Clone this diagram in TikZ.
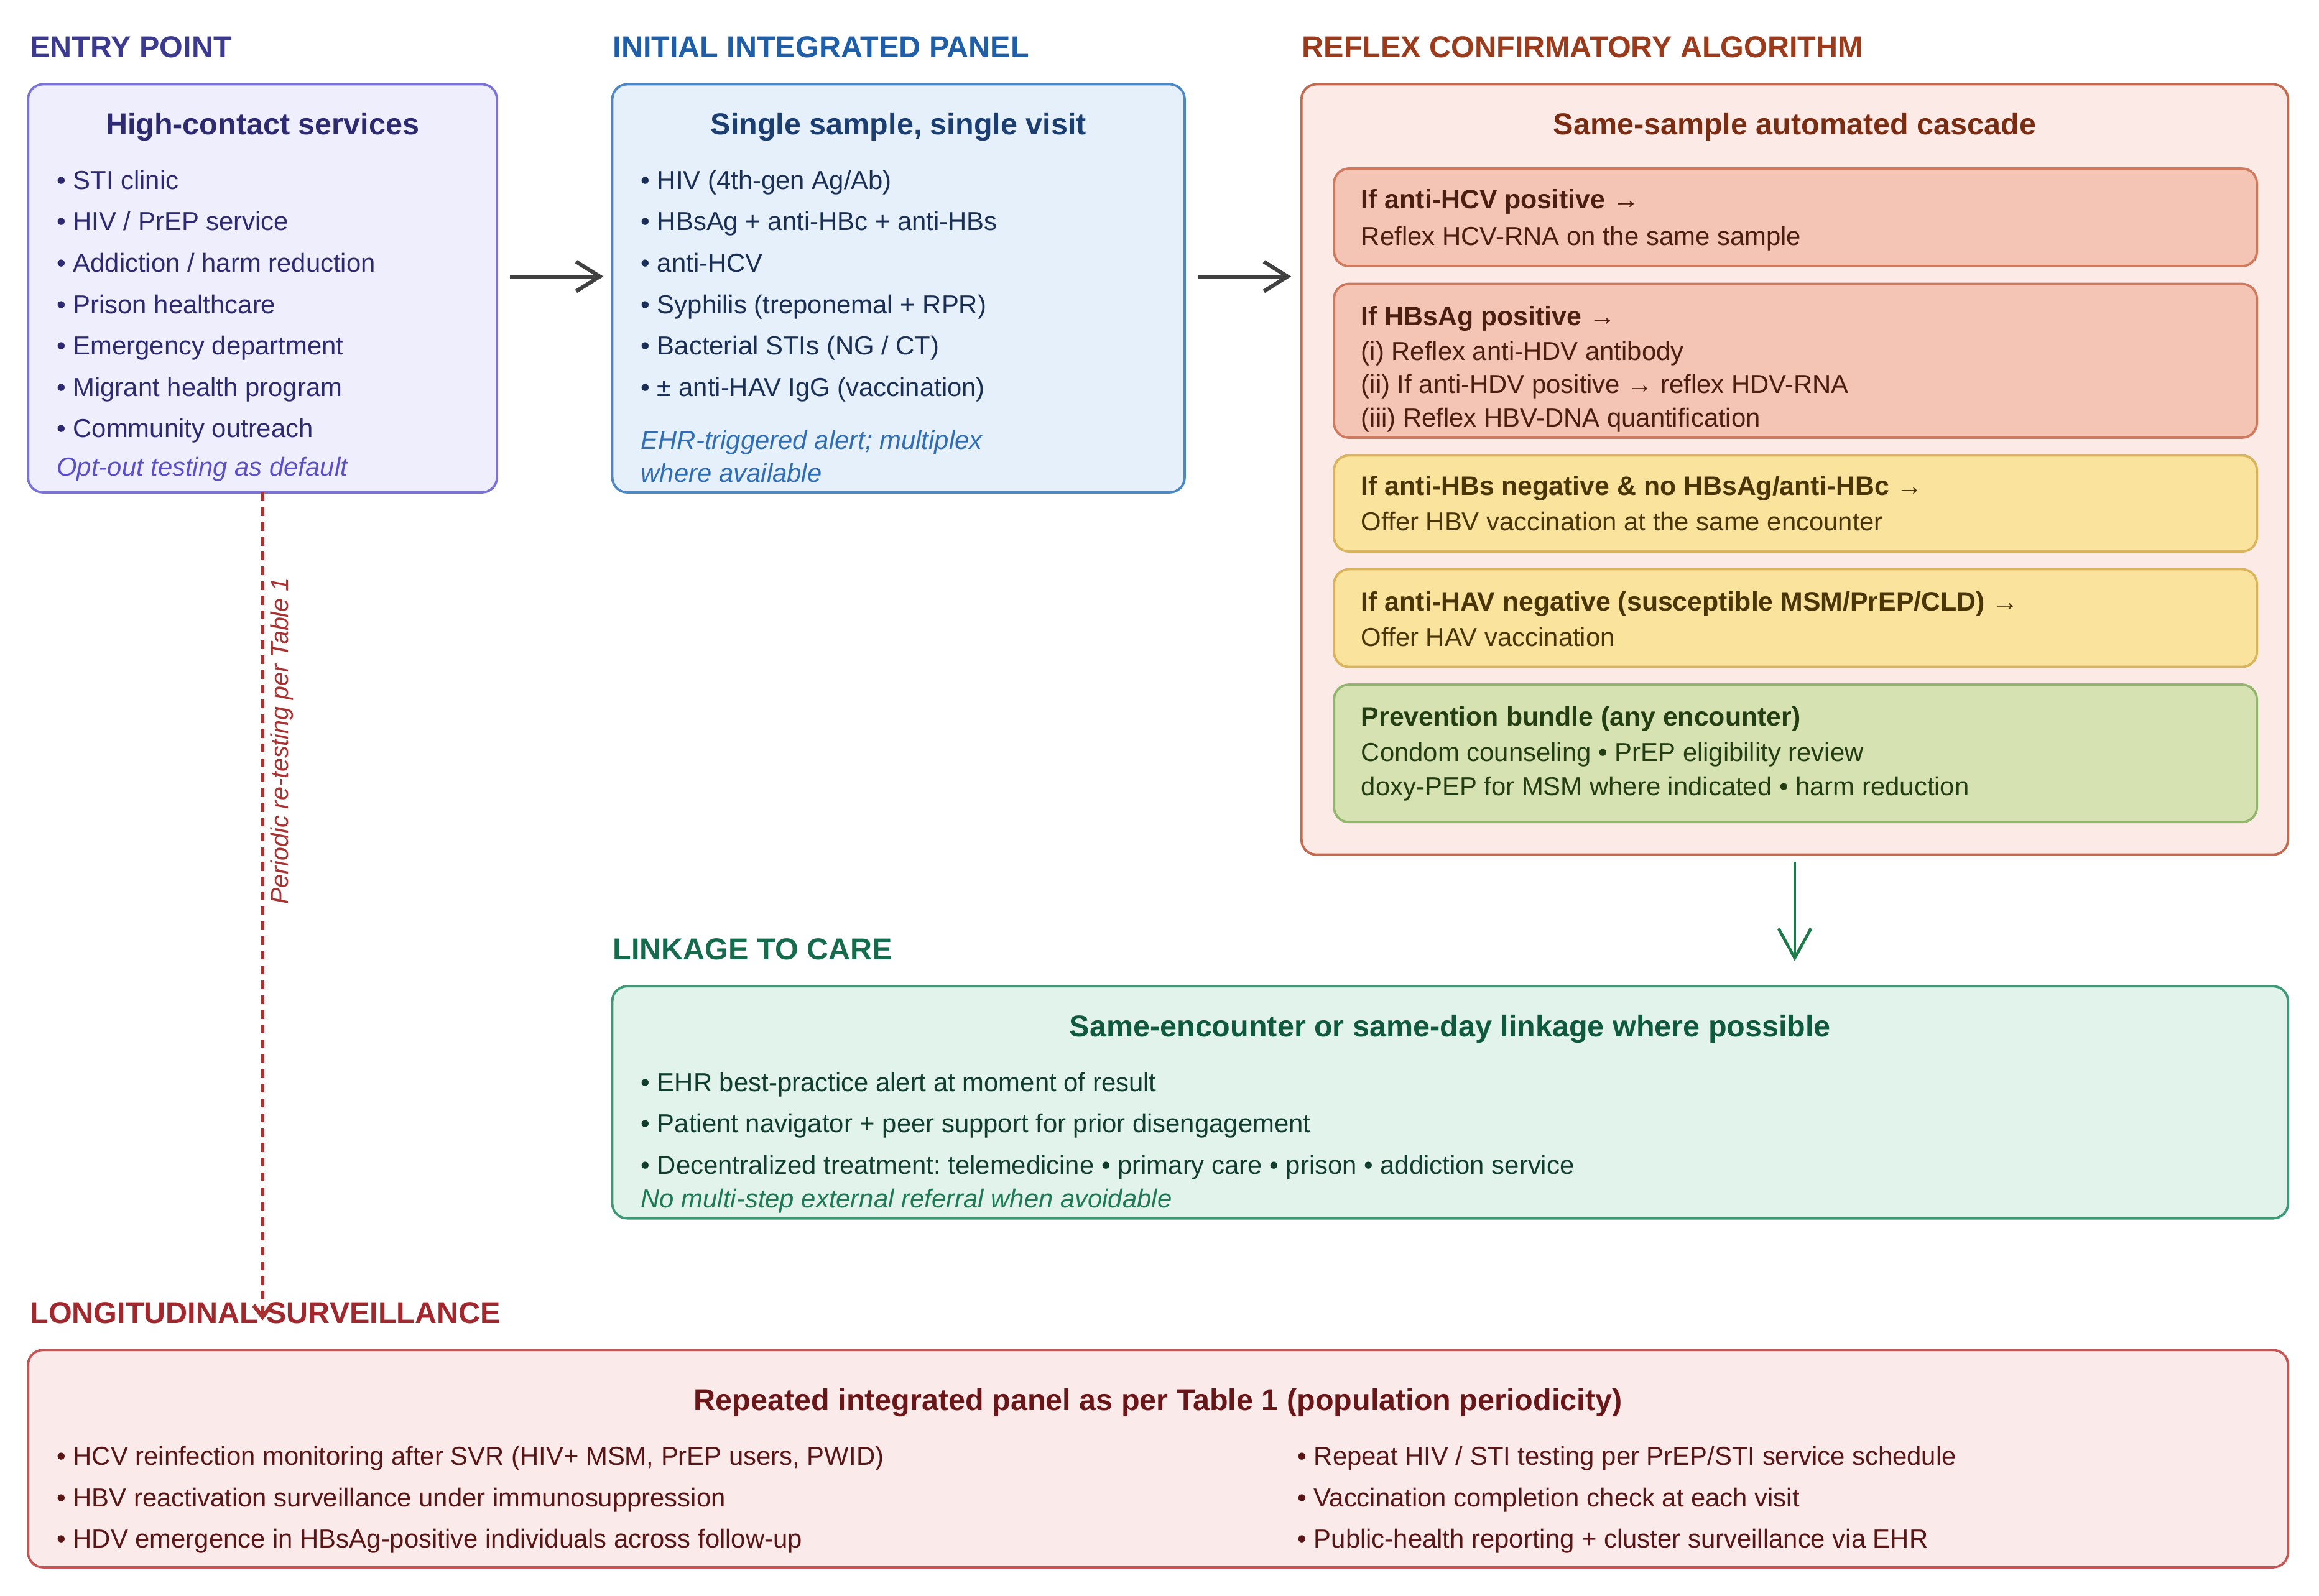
\documentclass[tikz,border=0pt]{standalone}
\usepackage{fontspec}
\setmainfont{Liberation Sans}
\usetikzlibrary{arrows.meta,positioning}
\frenchspacing

% colours
\definecolor{entryc}{HTML}{3B3A8F}
\definecolor{entryfill}{HTML}{EEEEFC}
\definecolor{entryline}{HTML}{7B73D9}
\definecolor{entrytext}{HTML}{2E2A72}
\definecolor{entrynote}{HTML}{5B4FC9}
\definecolor{panelc}{HTML}{1F5EA8}
\definecolor{panelfill}{HTML}{E6F0FA}
\definecolor{panelline}{HTML}{4C87C7}
\definecolor{paneltitle}{HTML}{1A3E72}
\definecolor{paneltext}{HTML}{1A2F55}
\definecolor{panelnote}{HTML}{2F6EB5}
\definecolor{reflexc}{HTML}{9C3B1B}
\definecolor{reflexfill}{HTML}{FBEAE5}
\definecolor{reflexline}{HTML}{C4684E}
\definecolor{reflextitle}{HTML}{7A2C12}
\definecolor{redfill}{HTML}{F4C5B5}
\definecolor{redline}{HTML}{CF7A5E}
\definecolor{redtext}{HTML}{4A1E10}
\definecolor{yelfill}{HTML}{FAE39C}
\definecolor{yelline}{HTML}{D9B45C}
\definecolor{yeltext}{HTML}{4A3508}
\definecolor{grnfill}{HTML}{D6E2B1}
\definecolor{grnline}{HTML}{93B56F}
\definecolor{grntext}{HTML}{233E12}
\definecolor{linkc}{HTML}{176B4D}
\definecolor{linkfill}{HTML}{E2F3EC}
\definecolor{linkline}{HTML}{3D9A77}
\definecolor{linktitle}{HTML}{0F5A3F}
\definecolor{linktext}{HTML}{113D2E}
\definecolor{linknote}{HTML}{1E7A55}
\definecolor{survc}{HTML}{A3282E}
\definecolor{survfill}{HTML}{FBEAEA}
\definecolor{survline}{HTML}{C65556}
\definecolor{survtitle}{HTML}{6A1518}
\definecolor{survtext}{HTML}{5A1616}
\definecolor{arrowgray}{HTML}{404040}
\definecolor{downgreen}{HTML}{1E7A4A}
\definecolor{retestred}{HTML}{A83232}

\tikzset{
  box/.style={draw, rounded corners=5pt, line width=0.8pt, inner sep=0pt, outer sep=0pt},
  head/.style={anchor=base west, inner sep=0pt, font=\fontsize{10.2}{12}\selectfont\bfseries},
  ttl/.style={anchor=base, inner sep=0pt, font=\fontsize{10.2}{12}\selectfont\bfseries},
  item/.style={anchor=base west, inner sep=0pt, font=\fontsize{8.8}{10.5}\selectfont},
  note/.style={item, font=\fontsize{8.8}{10.5}\selectfont\itshape},
  cond/.style={item, font=\fontsize{9}{10.5}\selectfont\bfseries},
  flow/.style={-{Straight Barb[length=8pt,width=10pt]}, line width=1.3pt, arrowgray},
}

\begin{document}
\begin{tikzpicture}[x=0.5pt,y=-0.5pt]
    \useasboundingbox (0,0) rectangle (1568,1079);

    % entry point
    \node[head,text=entryc] (entryhd) at (20,39) {ENTRY POINT};
    \node[box,fill=entryfill,draw=entryline,minimum width=158.5pt,minimum height=138pt] (entry) at (177.5,195) {};
    \node[ttl,text=entrytext] (entryttl) at (177.5,91) {High-contact services};
    \foreach \s [count=\i] in {STI clinic, HIV / PrEP service, Addiction / harm reduction, Prison healthcare, Emergency department, Migrant health program, Community outreach}
        \node[item,text=entrytext] (entry-\i) at (38,{100+28*\i}) {• \s};
    \node[note,text=entrynote] (entrynote) at (38,322) {Opt-out testing as default};

    % initial panel
    \node[head,text=panelc] (panelhd) at (414,39) {INITIAL INTEGRATED PANEL};
    \node[box,fill=panelfill,draw=panelline,minimum width=193.5pt,minimum height=138pt] (panel) at (607.5,195) {};
    \node[ttl,text=paneltitle] (panelttl) at (607.5,91) {Single sample, single visit};
    \foreach \s [count=\i] in {HIV (4th-gen Ag/Ab), HBsAg + anti-HBc + anti-HBs, anti-HCV, Syphilis (treponemal + RPR), Bacterial STIs (NG / CT), ± anti-HAV IgG (vaccination)}
        \node[item,text=paneltext] (panel-\i) at (433,{100+28*\i}) {• \s};
    \node[note,text=panelnote] (panelnote1) at (433,304) {EHR-triggered alert; multiplex};
    \node[note,text=panelnote] (panelnote2) at (433,326) {where available};

    % reflex algorithm
    \node[head,text=reflexc] (reflexhd) at (880,39) {REFLEX CONFIRMATORY ALGORITHM};
    \node[box,fill=reflexfill,draw=reflexline,minimum width=333.5pt,minimum height=260.5pt] (reflex) at (1213.5,317.5) {};
    \node[ttl,text=reflextitle] (reflexttl) at (1213.5,91) {Same-sample automated cascade};

    \node[box,fill=redfill,draw=redline,minimum width=312pt,minimum height=33pt] (hcv) at (1214,147) {};
    \node[cond,text=redtext] (hcv-h) at (920,141) {If anti-HCV positive →};
    \node[item,text=redtext] (hcv-1) at (920,166) {Reflex HCV-RNA on the same sample};

    \node[box,fill=redfill,draw=redline,minimum width=312pt,minimum height=52pt] (hbs) at (1214,244) {};
    \node[cond,text=redtext] (hbs-h) at (920,220) {If HBsAg positive →};
    \foreach \s [count=\i] in {(i) Reflex anti-HDV antibody, (ii) If anti-HDV positive → reflex HDV-RNA, (iii) Reflex HBV-DNA quantification}
        \node[item,text=redtext] (hbs-\i) at (920,{221+22.5*\i}) {\s};

    \node[box,fill=yelfill,draw=yelline,minimum width=312pt,minimum height=32.5pt] (hbv) at (1214,340.5) {};
    \node[cond,text=yeltext] (hbv-h) at (920,335) {If anti-HBs negative \& no HBsAg/anti-HBc →};
    \node[item,text=yeltext] (hbv-1) at (920,359) {Offer HBV vaccination at the same encounter};

    \node[box,fill=yelfill,draw=yelline,minimum width=312pt,minimum height=33pt] (hav) at (1214,418) {};
    \node[cond,text=yeltext] (hav-h) at (920,413) {If anti-HAV negative (susceptible MSM/PrEP/CLD) →};
    \node[item,text=yeltext] (hav-1) at (920,437) {Offer HAV vaccination};

    \node[box,fill=grnfill,draw=grnline,minimum width=312pt,minimum height=46.5pt] (prev) at (1214,509.5) {};
    \node[cond,text=grntext] (prev-h) at (920,491) {Prevention bundle (any encounter)};
    \node[item,text=grntext] (prev-1) at (920,515) {Condom counseling • PrEP eligibility review};
    \node[item,text=grntext] (prev-2) at (920,538) {doxy-PEP for MSM where indicated • harm reduction};

    % linkage
    \node[head,text=linkc] (linkhd) at (414,649) {LINKAGE TO CARE};
    \node[box,fill=linkfill,draw=linkline,minimum width=566.5pt,minimum height=78.5pt] (link) at (980.5,745.5) {};
    \node[ttl,text=linktitle] (linkttl) at (980.5,701) {Same-encounter or same-day linkage where possible};
    \foreach \s [count=\i] in {EHR best-practice alert at moment of result, Patient navigator + peer support for prior disengagement, Decentralized treatment: telemedicine • primary care • prison • addiction service}
        \node[item,text=linktext] (link-\i) at (433,{710+28*\i}) {• \s};
    \node[note,text=linknote] (linknote) at (433,817) {No multi-step external referral when avoidable};

    % surveillance
    \node[head,text=survc] (survhd) at (20,895) {LONGITUDINAL SURVEILLANCE};
    \node[box,fill=survfill,draw=survline,minimum width=764pt,minimum height=73.5pt] (surv) at (783,986.5) {};
    \node[ttl,text=survtitle] (survttl) at (783,954) {Repeated integrated panel as per Table 1 (population periodicity)};
    \foreach \s [count=\i] in {{HCV reinfection monitoring after SVR (HIV+ MSM, PrEP users, PWID)}, HBV reactivation surveillance under immunosuppression, HDV emergence in HBsAg-positive individuals across follow-up}
        \node[item,text=survtext] (survl-\i) at (38,{963+28*\i}) {• \s};
    \foreach \s [count=\i] in {Repeat HIV / STI testing per PrEP/STI service schedule, Vaccination completion check at each visit, Public-health reporting + cluster surveillance via EHR}
        \node[item,text=survtext] (survr-\i) at (877,{963+28*\i}) {• \s};

    % connectors
    \draw[flow,shorten <=4.5pt,shorten >=3pt] ([yshift=4pt]entry.east) -- ([yshift=4pt]panel.west);
    \draw[flow,shorten <=4.5pt,shorten >=3.5pt] ([yshift=4pt]panel.east) -- ([yshift=4pt]panel.east -| reflex.west);
    \draw[-{Straight Barb[length=10pt,width=11pt]},line width=1pt,downgreen,shorten <=2.5pt,shorten >=8.5pt] (reflex.south) -- (reflex.south |- link.north);
    \draw[-{Straight Barb[length=4pt,width=6pt]},line width=1.35pt,retestred,dash pattern=on 3pt off 2pt,shorten >=10pt] (entry.south) --
        node[pos=.29,rotate=90,anchor=north,inner sep=2pt,text=retestred,font=\fontsize{8.3}{10}\selectfont\itshape] (retestlbl) {Periodic re-testing per Table 1}
        (entry.south |- surv.north);
\end{tikzpicture}
\end{document}
